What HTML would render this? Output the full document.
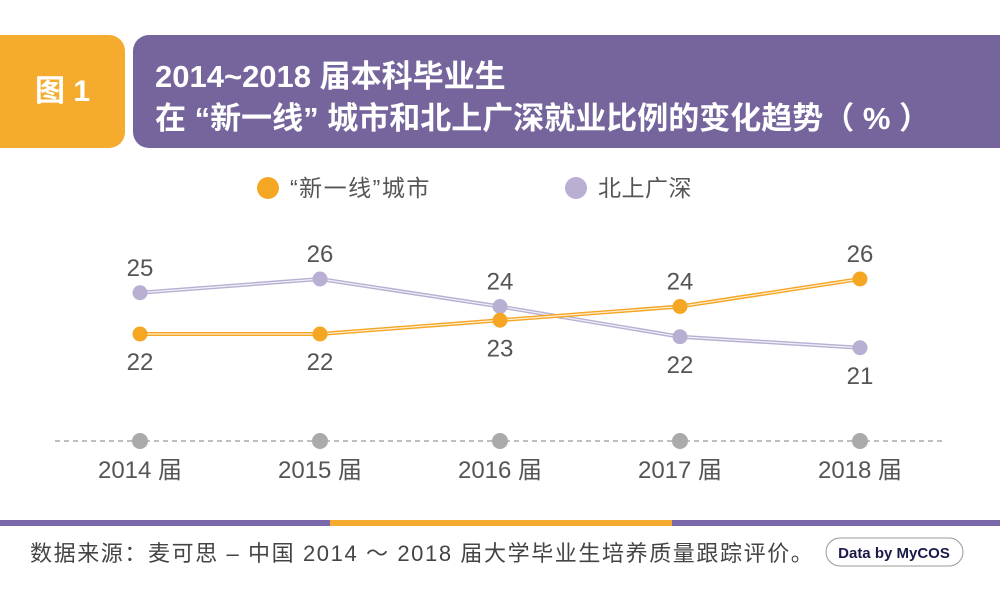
<!DOCTYPE html>
<html><head><meta charset="utf-8"><style>
body{margin:0;width:1000px;height:592px;background:#fff;overflow:hidden;font-family:"Liberation Sans","Noto Sans CJK SC",sans-serif;position:relative}
.abs{position:absolute}
</style></head><body>
<div class="abs" style="left:0;top:35px;width:125px;height:113px;background:#f5ac2e;border-radius:0 16px 16px 0;color:#fff;font-weight:bold;font-size:30px;line-height:113px;text-align:center">图 1</div>
<div class="abs" style="left:133px;top:35px;width:867px;height:113px;background:#76659d;border-radius:16px 0 0 16px;color:#fff;font-weight:bold;font-size:31px">
<div style="position:absolute;left:22px;top:16px;white-space:nowrap">2014~2018 届本科毕业生</div>
<div style="position:absolute;left:22px;top:58px;white-space:nowrap">在 “新一线” 城市和北上广深就业比例的变化趋势（ % ）</div>
</div>
<svg class="abs" style="left:0;top:0" width="1000" height="592">
<g font-size="23" fill="#555">
<circle cx="268" cy="188" r="11" fill="#f5a623"/>
<text x="290" y="196" letter-spacing="1.5">“新一线”城市</text>
<circle cx="576" cy="188" r="11" fill="#b8afd3"/>
<text x="598" y="196" letter-spacing="0.5">北上广深</text>
</g>
<line x1="55" y1="441" x2="945" y2="441" stroke="#aaa" stroke-width="1.5" stroke-dasharray="5,4"/>
<g id="marks"></g>
<rect x="0" y="520" width="330" height="6" fill="#7a69a8"/>
<rect x="330" y="520" width="342" height="6" fill="#f5ac2e"/>
<rect x="672" y="520" width="328" height="6" fill="#7a69a8"/>
<text x="30" y="561" font-size="22" fill="#444" letter-spacing="1.6">数据来源：麦可思 – 中国 2014 ～ 2018 届大学毕业生培养质量跟踪评价。</text>
<rect x="826" y="538" width="137" height="28" rx="14" fill="#fff" stroke="#999"/>
<text x="894" y="558" font-size="15" font-weight="bold" fill="#1a1a4a" text-anchor="middle">Data by MyCOS</text>
</svg>
<script>
const years=["2014 届","2015 届","2016 届","2017 届","2018 届"];
const newTier1=[22,22,23,24,26];
const bsgs=[25,26,24,21.8,21];
const newTier1Labels=["22","22","23","24","26"];
const bsgsLabels=["25","26","24","22","21"];
const NS="http://www.w3.org/2000/svg";
const g=document.getElementById('marks');
const xs=i=>140+i*180;
const ys=v=>334-(v-22)*13.75;
function mk(t,a){const e=document.createElementNS(NS,t);for(const k in a)e.setAttribute(k,a[k]);g.appendChild(e);return e;}
years.forEach((y,i)=>{
 const c=mk('circle',{cx:xs(i),cy:441,r:8,fill:'#aaa'});
 
 
 const t=mk('text',{x:xs(i),y:478,'font-size':24,fill:'#555','text-anchor':'middle'});t.textContent=y;
 
 
});
function series(vals,labels,col,name,other){
 const pts=vals.map((v,i)=>xs(i)+','+ys(v)).join(' ');
 const l=mk('polyline',{points:pts,fill:'none',stroke:col,'stroke-width':4});
 
 
 const l2=mk('polyline',{points:pts,fill:'none',stroke:'#fff','stroke-width':1.2,opacity:0.8});
 
 
 vals.forEach((v,i)=>{
  const c=mk('circle',{cx:xs(i),cy:ys(v),r:7.5,fill:col});
  
  
  const above=v>=other[i];
  const t=mk('text',{x:xs(i),y:above?ys(v)-17:ys(v)+36,'font-size':24,fill:'#555','text-anchor':'middle'});
  t.textContent=labels[i];
  
  
 });
}
series(bsgs,bsgsLabels,'#b8afd3','bsgs',newTier1);
series(newTier1,newTier1Labels,'#f5a623','new-tier1',bsgs);
</script>
</body></html>
